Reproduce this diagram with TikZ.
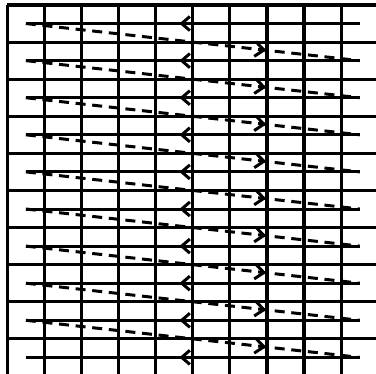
\documentclass[tikz,border=0pt]{standalone}
\usetikzlibrary{arrows.meta,decorations.markings}
\tikzset{
  gridline/.style={line width=2.4pt},
  rowline/.style={line width=2.3pt, postaction={decorate},
    decoration={markings, mark=at position 0.54 with {\arrow{Straight Barb[length=2.2mm,width=3.8mm]}}}},
  sweep/.style={line width=2.3pt, dash pattern=on 2.7mm off 1.8mm, postaction={decorate},
    decoration={markings, mark=at position 0.72 with {\arrow{Straight Barb[length=2.4mm,width=4mm]}}}},
}
\begin{document}
\begin{tikzpicture}
  \useasboundingbox (-0.197,0.06) rectangle (9.94,10.135);
  \clip (-0.197,0.06) rectangle (9.94,10.135);
  \draw[gridline] (0,0) grid (10,10);
  % rows, scanned right to left
  \foreach \i in {0,...,9} {
    \coordinate (s\i) at (0.5,9.5-\i);
    \coordinate (e\i) at (9.5,9.5-\i);
    \draw[rowline] (e\i) -- (s\i);
  }
  % return sweeps
  \foreach \i [evaluate=\i as \j using int(\i+1)] in {0,...,8}
    \draw[sweep] (s\i) -- (e\j);
\end{tikzpicture}
\end{document}
